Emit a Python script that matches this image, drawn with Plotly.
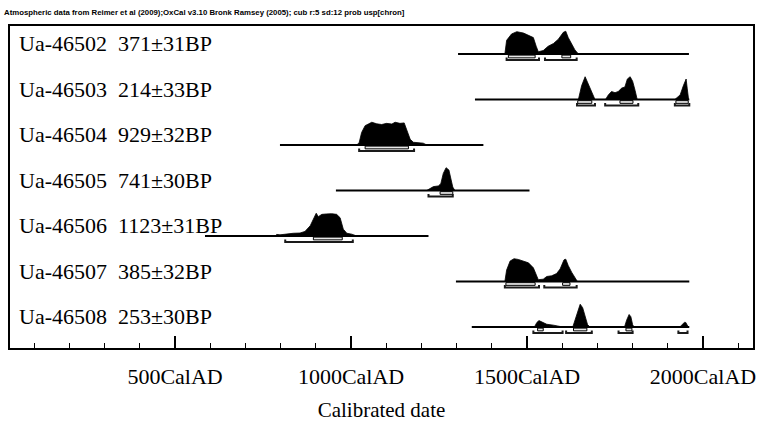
import plotly.graph_objects as go

# ---------------- data ----------------
labels = ["Ua-46502", "Ua-46503", "Ua-46504", "Ua-46505", "Ua-46506", "Ua-46507", "Ua-46508"]
bp_ages = ["371±31BP", "214±33BP", "929±32BP", "741±30BP", "1123±31BP", "385±32BP", "253±30BP"]

# extent of the plotted calibration line (cal AD)
line_start = [1304, 1352, 798, 957, 585, 1298, 1343]
line_end = [1960, 1961, 1376, 1507, 1220, 1961, 1961]

# probability distributions (year, relative probability)
d1_year = [1437, 1442, 1456, 1471, 1490, 1504, 1518, 1526, 1532, 1546, 1560, 1575, 1589, 1603, 1610, 1617, 1627, 1636, 1646]
d1_prob = [0, 0.6, 0.88, 0.98, 0.92, 0.83, 0.72, 0.34, 0.1, 0.15, 0.34, 0.46, 0.65, 0.95, 1.0, 0.72, 0.42, 0.18, 0]

d2_year = [1646, 1655, 1665, 1674, 1684, 1693, 1723, 1731, 1740, 1750, 1759, 1769, 1778, 1785, 1793, 1800, 1807, 1813, 1920, 1935, 1944, 1952, 1955, 1959]
d2_prob = [0, 0.6, 1.0, 0.7, 0.3, 0, 0, 0.2, 0.35, 0.3, 0.35, 0.5, 0.55, 0.9, 1.0, 0.8, 0.4, 0, 0, 0.2, 0.6, 0.9, 0.5, 0]

d3_year = [1016, 1023, 1030, 1040, 1049, 1059, 1073, 1087, 1101, 1116, 1125, 1139, 1151, 1158, 1168, 1177, 1191, 1205, 1215]
d3_prob = [0, 0.1, 0.55, 0.85, 0.92, 1.0, 0.93, 0.9, 0.95, 0.92, 1.0, 0.95, 0.97, 0.7, 0.25, 0.12, 0.1, 0.08, 0]

d4_year = [1215, 1224, 1234, 1248, 1255, 1262, 1270, 1278, 1283, 1289, 1295]
d4_prob = [0, 0.1, 0.17, 0.2, 0.3, 0.75, 1.0, 0.9, 0.5, 0.15, 0]

d5_year = [784, 789, 798, 817, 836, 855, 869, 884, 893, 901, 907, 917, 931, 945, 959, 969, 978, 988, 1002, 1016]
d5_prob = [0, 0.07, 0.05, 0.1, 0.12, 0.13, 0.2, 0.45, 0.75, 1.0, 0.85, 0.95, 0.97, 0.98, 0.95, 0.8, 0.3, 0.12, 0.08, 0]

d6_year = [1437, 1442, 1452, 1463, 1475, 1490, 1504, 1518, 1526, 1532, 1546, 1556, 1570, 1584, 1594, 1605, 1610, 1617, 1627, 1636, 1643]
d6_prob = [0, 0.5, 0.9, 1.0, 0.97, 0.88, 0.82, 0.6, 0.25, 0.08, 0.1, 0.22, 0.25, 0.35, 0.55, 0.95, 0.98, 0.7, 0.4, 0.15, 0]

d7_year = [1521, 1528, 1534, 1542, 1556, 1575, 1594, 1601, 1630, 1636, 1643, 1651, 1658, 1665, 1672, 1679, 1777, 1783, 1790, 1795, 1800, 1804, 1934, 1947, 1951, 1958]
d7_prob = [0, 0.2, 0.28, 0.22, 0.12, 0.08, 0.03, 0, 0, 0.3, 0.7, 1.0, 0.85, 0.5, 0.1, 0, 0, 0.3, 0.55, 0.45, 0.1, 0, 0, 0.2, 0.2, 0]

dist_years = [d1_year, d2_year, d3_year, d4_year, d5_year, d6_year, d7_year]
dist_probs = [d1_prob, d2_prob, d3_prob, d4_prob, d5_prob, d6_prob, d7_prob]

# 68.2% (1 sigma) and 95.4% (2 sigma) ranges
sig1 = [
    [(1447, 1523), (1599, 1624)],
    [(1644, 1684), (1764, 1801), (1923, 1958)],
    [(1040, 1163)],
    [(1253, 1289)],
    [(893, 975)],
    [(1440, 1523), (1601, 1622)],
    [(1530, 1546), (1632, 1670), (1781, 1798)],
]
sig2 = [
    [(1442, 1534), (1551, 1641)],
    [(1642, 1693), (1722, 1816), (1920, 1961)],
    [(1023, 1179)],
    [(1220, 1289)],
    [(813, 1005)],
    [(1437, 1534), (1549, 1641)],
    [(1518, 1601), (1611, 1684), (1760, 1800), (1930, 1956)],
]

tick_vals = [500, 1000, 1500, 2000]
tick_text = ["500CalAD", "1000CalAD", "1500CalAD", "2000CalAD"]
header = "Atmospheric data from Reimer et al (2009);OxCal v3.10 Bronk Ramsey (2005); cub r:5 sd:12 prob usp[chron]"
x_title = "Calibrated date"

# ---------------- styling ----------------
H = 0.5            # height of a normalised distribution (row units)
S1_TOP, S1_BOT = 0.025, 0.085
S2_Y, S2_END = 0.13, 0.075
SERIF = "Liberation Serif, Times New Roman, serif"

fig = go.Figure()

for k in range(len(labels)):
    # calibration baseline
    fig.add_trace(go.Scatter(x=[line_start[k], line_end[k]], y=[k, k], mode="lines",
                             line=dict(color="black", width=2), hoverinfo="skip", showlegend=False))
    # distribution
    fig.add_trace(go.Scatter(x=dist_years[k], y=[k - H * p for p in dist_probs[k]], mode="lines",
                             fill="toself", fillcolor="black", line=dict(color="black", width=0.8),
                             hoverinfo="skip", showlegend=False))
    # 1 sigma boxes
    xs, ys = [], []
    for a, b in sig1[k]:
        xs += [a, b, b, a, a, None]
        ys += [k + S1_TOP, k + S1_TOP, k + S1_BOT, k + S1_BOT, k + S1_TOP, None]
    fig.add_trace(go.Scatter(x=xs, y=ys, mode="lines", fill="toself", fillcolor="#e8e8e8",
                             line=dict(color="black", width=1), hoverinfo="skip", showlegend=False))
    # 2 sigma brackets
    xs, ys = [], []
    for a, b in sig2[k]:
        xs += [a, a, b, b, None]
        ys += [k + S2_END, k + S2_Y, k + S2_Y, k + S2_END, None]
    fig.add_trace(go.Scatter(x=xs, y=ys, mode="lines", line=dict(color="#1a1a1a", width=2),
                             hoverinfo="skip", showlegend=False))
    # label
    fig.add_annotation(x=0.0095, xref="paper", y=k - 0.22, yref="y",
                       text=labels[k] + "\u00a0 " + bp_ages[k], showarrow=False,
                       xanchor="left", yanchor="middle",
                       font=dict(family=SERIF, size=22, color="black"))

fig.add_annotation(x=-0.0107, xref="paper", y=1 + 14 / 322, yref="paper", text="<b>" + header + "</b>",
                   showarrow=False, xanchor="left", yanchor="middle",
                   font=dict(family="Liberation Sans Narrow, Liberation Sans, Arial, sans-serif", size=7.8, color="black"))

fig.update_layout(
    width=758, height=428,
    margin=dict(l=10, r=3, t=26, b=80),
    paper_bgcolor="white", plot_bgcolor="white",
    xaxis=dict(range=[31, 2142], showline=True, mirror=True, linecolor="black", linewidth=2,
               ticks="inside", ticklen=12, tickwidth=1.5, tickcolor="black",
               tickmode="array", tickvals=tick_vals, ticktext=tick_text,
               ticklabelstandoff=8,
               minor=dict(tickmode="linear", tick0=0, dtick=100, ticks="inside", ticklen=5,
                          tickwidth=1.2, tickcolor="black", showgrid=False),
               showgrid=False, zeroline=False,
               tickfont=dict(family=SERIF, size=22, color="black"),
               title=dict(text=x_title, font=dict(family=SERIF, size=21, color="black"), standoff=14)),
    yaxis=dict(range=[6.462, -0.615], showline=True, mirror=True, linecolor="black", linewidth=2,
               showticklabels=False, ticks="", showgrid=False, zeroline=False),
)

fig.write_html("out.html")
